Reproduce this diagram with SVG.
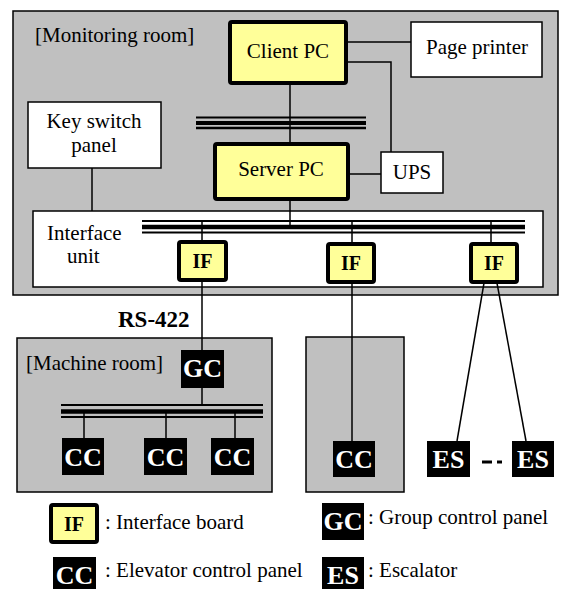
<svg xmlns="http://www.w3.org/2000/svg" width="562" height="589" viewBox="0 0 562 589" font-family="'Liberation Serif', 'DejaVu Serif', serif">
<style>
text{font-family:'Liberation Serif','DejaVu Serif',serif;fill:#000}
.t{font-size:21px}
.room{fill:#c0c0c0;stroke:#000;stroke-width:1.5}
.box{fill:#fff;stroke:#000;stroke-width:1.5}
.pc{fill:#ffff99;stroke:#000;stroke-width:4}
.ifb{fill:#ffff99;stroke:#000;stroke-width:4}
.blk{fill:#000}
.bt{font-size:26px;font-weight:bold;fill:#fff}
.ift{font-size:20px;font-weight:bold}
.ln{stroke:#000;stroke-width:1.5;fill:none}
</style>
<g id="monitoring-room">
<rect class="room" x="13" y="11" width="545" height="284"/>
<text class="t" x="35" y="42">[Monitoring room]</text>
</g>
<g id="machine-room">
<rect class="room" x="17" y="338" width="255" height="154"/>
<text class="t" x="26" y="370">[Machine room]</text>
</g>
<g id="room2">
<rect class="room" x="306" y="337" width="98" height="155"/>
</g>
<g id="interface-unit">
<rect class="box" x="33" y="211" width="510" height="76"/>
<text class="t" x="47" y="240">Interface</text>
<text class="t" x="67" y="263">unit</text>
</g>
<g id="connectors">
<line class="ln" x1="290" y1="83" x2="290" y2="142"/>
<line class="ln" x1="290" y1="199" x2="290" y2="227"/>
<line class="ln" x1="348" y1="42" x2="411" y2="42"/>
<polyline class="ln" points="348,62 391,62 391,152"/>
<line class="ln" x1="348" y1="174" x2="381" y2="174"/>
<line class="ln" x1="92" y1="168" x2="92" y2="211"/>
<line class="ln" x1="202" y1="221" x2="202" y2="240"/>
<line class="ln" x1="352" y1="221" x2="352" y2="242"/>
<line class="ln" x1="491" y1="221" x2="491" y2="242"/>
<line class="ln" x1="202" y1="281" x2="202" y2="350"/>
<line class="ln" x1="352" y1="283" x2="352" y2="441"/>
<line class="ln" x1="484" y1="283" x2="457" y2="441"/>
<line class="ln" x1="497" y1="283" x2="526" y2="441"/>
<line class="ln" x1="202" y1="388" x2="202" y2="405"/>
<line class="ln" x1="84" y1="411" x2="84" y2="438"/>
<line class="ln" x1="166" y1="411" x2="166" y2="438"/>
<line class="ln" x1="235" y1="411" x2="235" y2="438"/>
<g stroke="#000">
<line x1="196" y1="117.5" x2="366" y2="117.5" stroke-width="2"/>
<line x1="196" y1="123" x2="366" y2="123" stroke-width="4"/>
<line x1="196" y1="128" x2="366" y2="128" stroke-width="2.5"/>
<line x1="142" y1="221" x2="525" y2="221" stroke-width="2"/>
<line x1="142" y1="227" x2="525" y2="227" stroke-width="4.5"/>
<line x1="142" y1="232.5" x2="525" y2="232.5" stroke-width="2"/>
<line x1="61" y1="405" x2="263" y2="405" stroke-width="2"/>
<line x1="61" y1="411.5" x2="263" y2="411.5" stroke-width="4.5"/>
<line x1="61" y1="417" x2="263" y2="417" stroke-width="2"/>
<line x1="482" y1="462" x2="492" y2="462" stroke-width="3"/>
<line x1="497" y1="462" x2="502" y2="462" stroke-width="3"/>
</g>
<text x="118" y="327" style="font-size:23px;font-weight:bold">RS-422</text>
</g>
<g id="client-pc">
<rect class="pc" x="230" y="22" width="116" height="61" rx="2"/>
<text class="t" x="288" y="58" text-anchor="middle">Client PC</text>
</g>
<g id="page-printer">
<rect class="box" x="411" y="22" width="131" height="55"/>
<text class="t" x="477" y="54" text-anchor="middle">Page printer</text>
</g>
<g id="key-switch-panel">
<rect class="box" x="28" y="102" width="133" height="66"/>
<text class="t" x="94" y="128" text-anchor="middle">Key switch</text>
<text class="t" x="94" y="152" text-anchor="middle">panel</text>
</g>
<g id="server-pc">
<rect class="pc" x="215" y="144" width="133" height="55" rx="2"/>
<text class="t" x="281" y="176" text-anchor="middle">Server PC</text>
</g>
<g id="ups">
<rect class="box" x="381" y="152" width="62" height="41"/>
<text class="t" x="412" y="179" text-anchor="middle">UPS</text>
</g>
<g id="if1">
<rect class="ifb" x="179" y="242" width="47" height="38" rx="2"/>
<text class="ift" x="202.5" y="268" text-anchor="middle">IF</text>
</g>
<g id="if2">
<rect class="ifb" x="328" y="244" width="46" height="38" rx="2"/>
<text class="ift" x="351" y="270" text-anchor="middle">IF</text>
</g>
<g id="if3">
<rect class="ifb" x="471" y="244" width="46" height="38" rx="2"/>
<text class="ift" x="494" y="270" text-anchor="middle">IF</text>
</g>
<g id="gc">
<rect class="blk" x="181" y="350" width="43" height="38"/>
<text class="bt" x="202.5" y="377" text-anchor="middle">GC</text>
</g>
<g id="cc1">
<rect class="blk" x="62" y="438" width="42" height="37"/>
<text class="bt" x="83" y="466" text-anchor="middle">CC</text>
</g>
<g id="cc2">
<rect class="blk" x="144" y="438" width="43" height="37"/>
<text class="bt" x="165.5" y="466" text-anchor="middle">CC</text>
</g>
<g id="cc3">
<rect class="blk" x="211" y="438" width="43" height="37"/>
<text class="bt" x="232.5" y="466" text-anchor="middle">CC</text>
</g>
<g id="cc4">
<rect class="blk" x="333" y="441" width="42" height="36"/>
<text class="bt" x="354" y="468" text-anchor="middle">CC</text>
</g>
<g id="es1">
<rect class="blk" x="427" y="441" width="43" height="36"/>
<text class="bt" x="448.5" y="468" text-anchor="middle">ES</text>
</g>
<g id="es2">
<rect class="blk" x="512" y="441" width="42" height="36"/>
<text class="bt" x="533" y="468" text-anchor="middle">ES</text>
</g>
<g id="legend">
<rect class="ifb" x="51" y="505" width="46" height="37" rx="2"/>
<text class="ift" x="74" y="531" text-anchor="middle">IF</text>
<text class="t" x="105" y="529">: Interface board</text>
<rect class="blk" x="53" y="557" width="43" height="32"/>
<text class="bt" x="74.5" y="584" text-anchor="middle">CC</text>
<text class="t" x="105" y="577">: Elevator control panel</text>
<rect class="blk" x="322" y="503" width="42" height="37"/>
<text class="bt" x="343" y="530" text-anchor="middle">GC</text>
<text class="t" x="368" y="524">: Group control panel</text>
<rect class="blk" x="322" y="557" width="42" height="32"/>
<text class="bt" x="343" y="584" text-anchor="middle">ES</text>
<text class="t" x="368" y="577">: Escalator</text>
</g>
</svg>
